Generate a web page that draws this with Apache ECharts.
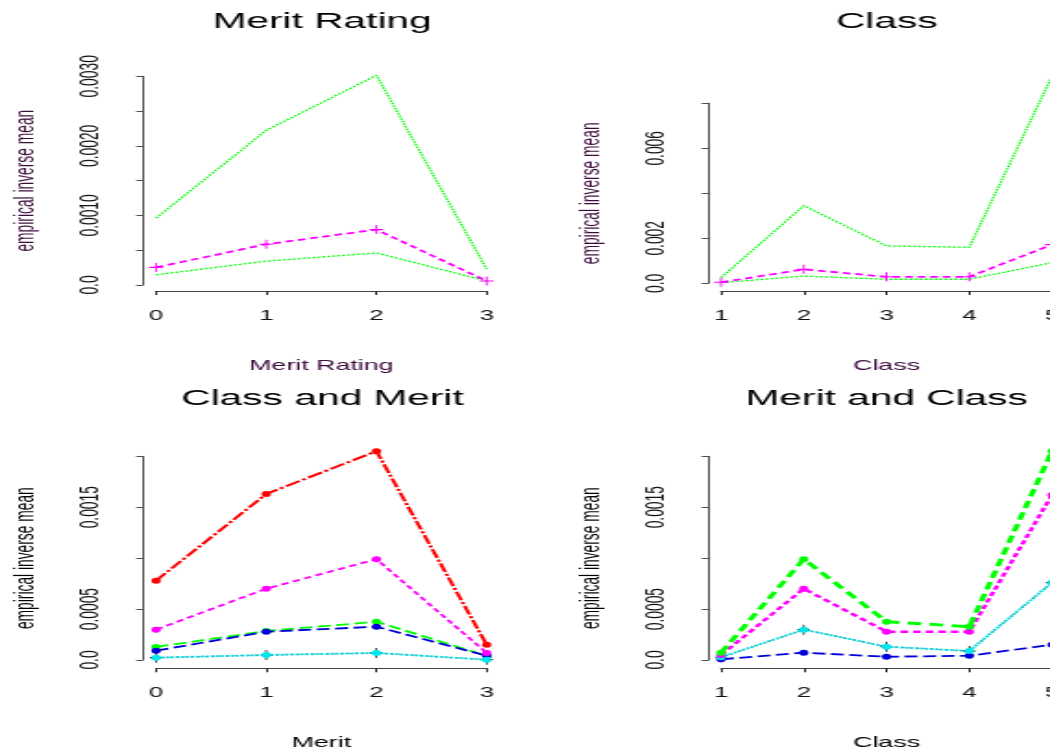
<!DOCTYPE html>
<html>
<head>
<meta charset="utf-8">
<script src="https://cdn.jsdelivr.net/npm/echarts@6/dist/echarts.min.js"></script>
<style>
  html, body { margin: 0; padding: 0; background: #fff; overflow: hidden; }
  #wrap { width: 1050px; height: 750px; overflow: hidden; position: relative; background: #fff; }
  #chart { position: absolute; left: 0; top: 0; width: 568px; height: 750px; transform-origin: 0 0; }
</style>
</head>
<body>
<div id="wrap"><div id="chart"></div></div>
<script>
// ---- data ----
const meritLevels = [0, 1, 2, 3];
const classLevels = [1, 2, 3, 4, 5];

// Merit Rating: upper / lower bands and empirical inverse mean
const meritUpper = [0.000961, 0.002224, 0.003014, 0.000229];
const meritMean  = [0.000253, 0.000586, 0.000796, 0.000057];
const meritLower = [0.000147, 0.000343, 0.000461, 0.000057];

// Class: upper / lower bands and empirical inverse mean
const classUpper = [0.00025, 0.00345, 0.00166, 0.00160, 0.00920];
const classMean  = [0.000044, 0.00062, 0.00029, 0.00029, 0.00172];
const classLower = [0.00003, 0.00032, 0.00018, 0.00018, 0.00092];

// Class and Merit: one line per class across merit levels
const cmRed     = [0.000779, 0.00163, 0.00205, 0.00015];
const cmMagenta = [0.000298, 0.00070, 0.00099, 0.000069];
const cmGreen   = [0.000128, 0.000285, 0.000376, 0.00004];
const cmBlue    = [0.000091, 0.000278, 0.000327, 0.000042];
const cmCyan    = [0.000023, 0.000049, 0.000069, 0.000003];

// Merit and Class: one line per merit level across classes
const mcGreen   = [0.000072, 0.00099, 0.000376, 0.000327, 0.00205];
const mcMagenta = [0.000049, 0.00070, 0.000278, 0.000278, 0.00162];
const mcCyan    = [0.000027, 0.000298, 0.000131, 0.000088, 0.00076];
const mcBlue    = [0.000007, 0.000072, 0.000032, 0.000042, 0.00015];

// tick labels (blank where the label is skipped)
const yLabelsMerit  = ['0.0', '', '0.0010', '', '0.0020', '', '0.0030'];
const yLabelsClass  = ['0.0', '0.002', '', '0.006', ''];
const yLabelsBottom = ['0.0', '0.0005', '', '0.0015', ''];

const titles = ['Merit Rating', 'Class', 'Class and Merit', 'Merit and Class'];
const xNames = ['Merit Rating', 'Class', 'Merit', 'Class'];
const yName = 'empirical inverse mean';

// ---- layout ----
// the chart is drawn narrow and widened horizontally, like a stretched device
const chartEl = document.getElementById('chart');
const K = 1050 / 568;
chartEl.style.transform = 'scaleX(' + K + ')';
const X = v => v / K;

const FONT = '"Liberation Sans", Arial, Helvetica, sans-serif';
const PURPLE = '#3b0b3b';

const geo = [
  { left: 156, width: 330.7, top: 76.3,  height: 208.7, xOff: 6,   yOff: 13.2, tx: 322,   ty: 21.5 },
  { left: 721, width: 331,   top: 103.3, height: 180,   xOff: 7.7, yOff: 12.7, tx: 886.7, ty: 21.5 },
  { left: 156, width: 330.7, top: 456.3, height: 203.7, xOff: 8.3, yOff: 13.2, tx: 322.5, ty: 399 },
  { left: 721, width: 331,   top: 456.3, height: 203.7, xOff: 8.3, yOff: 12.7, tx: 886.7, ty: 399 }
];

const axisCfg = [
  { xMin: 0, xMax: 3, yMax: 0.003, yStep: 0.0005, yLabels: yLabelsMerit,  nameColor: PURPLE },
  { xMin: 1, xMax: 5, yMax: 0.008, yStep: 0.002,  yLabels: yLabelsClass,  nameColor: PURPLE },
  { xMin: 0, xMax: 3, yMax: 0.002, yStep: 0.0005, yLabels: yLabelsBottom, nameColor: '#000' },
  { xMin: 1, xMax: 5, yMax: 0.002, yStep: 0.0005, yLabels: yLabelsBottom, nameColor: '#000' }
];

const grids = [], xAxes = [], yAxes = [], titleOpts = [];
geo.forEach((g, i) => {
  const a = axisCfg[i];
  grids.push({ left: X(g.left), top: g.top, width: X(g.width), height: g.height,
               containLabel: false, outerBoundsMode: 'none' });
  xAxes.push({
    gridIndex: i, type: 'value', min: a.xMin, max: a.xMax, interval: 1, offset: g.xOff,
    name: xNames[i], nameLocation: 'middle', nameGap: 67.5, nameMoveOverlap: false,
    nameTextStyle: { fontFamily: FONT, fontSize: 14.5, color: a.nameColor },
    axisLine: { show: true, onZero: false, lineStyle: { color: '#444', width: 1 } },
    axisTick: { show: true, length: 4, lineStyle: { color: '#222', width: 1 } },
    axisLabel: { margin: 18, fontFamily: FONT, fontSize: 14, color: '#111' },
    splitLine: { show: false }
  });
  yAxes.push({
    gridIndex: i, type: 'value', min: 0, max: a.yMax, interval: a.yStep, offset: X(g.yOff),
    name: yName, nameLocation: 'middle', nameRotate: 90, nameGap: 56, nameMoveOverlap: false,
    nameTextStyle: { fontFamily: FONT, fontSize: 13.8, color: a.nameColor },
    axisLine: { show: true, onZero: false, lineStyle: { color: '#222', width: 0.8 } },
    axisTick: { show: true, length: 3.6, lineStyle: { color: '#222', width: 0.8 } },
    axisLabel: {
      rotate: 90, margin: 21, fontFamily: FONT, fontSize: 13.8, color: '#111',
      showMinLabel: true, showMaxLabel: true,
      formatter: v => a.yLabels[Math.round(v / a.yStep)] || ''
    },
    splitLine: { show: false }
  });
  titleOpts.push({
    text: titles[i], left: X(g.tx), top: g.ty - 11, textAlign: 'center', padding: 0,
    textStyle: { fontFamily: FONT, fontSize: 22, fontWeight: 'normal', color: '#000' }
  });
});

// ---- series ----
const CROSS = 'path://M0,4.4H10V5.6H0ZM4.4,0H5.6V10H4.4Z';
const GREEN = '#00ff00', MAGENTA = '#ff00ff', RED = '#ff0000', BLUE = '#0000d8', CYAN = '#00e6ee';

function pts(xs, ys) { return xs.map((x, i) => [x, ys[i]]); }
function line(gi, name, xs, ys, color, width, dash, symbol, symbolSize, z) {
  return {
    type: 'line', name: name, xAxisIndex: gi, yAxisIndex: gi,
    data: pts(xs, ys), clip: false, silent: true, animation: false,
    symbol: symbol || 'none', symbolSize: symbolSize || 0, showSymbol: !!symbol,
    itemStyle: { color: color, opacity: 1 },
    lineStyle: { color: color, width: width, type: dash },
    z: z || 2
  };
}
const DOT = [1.6, 1.1];
const DASH = [4.2, 2.6];
const LONG = [7, 3];
const LONG_WIDE = [7.5, 4.5];
const DOTDASH = [9, 1.8, 2.2, 1.8];
const CIRC = [5, 6];

const series = [
  // Merit Rating
  line(0, 'upper', meritLevels, meritUpper, GREEN, 1.3, DOT),
  line(0, 'lower', meritLevels, meritLower, GREEN, 1.3, DOT),
  line(0, 'mean',  meritLevels, meritMean,  MAGENTA, 1.8, DASH, CROSS, [7.5, 9], 3),
  // Class
  line(1, 'upper', classLevels, classUpper, GREEN, 1.3, DOT),
  line(1, 'lower', classLevels, classLower, GREEN, 1.3, DOT),
  line(1, 'mean',  classLevels, classMean,  MAGENTA, 1.8, DASH, CROSS, [7.5, 9], 3),
  // Class and Merit
  line(2, 'black',   meritLevels, cmCyan,    '#111', 1, DOT, CROSS, [6.5, 10], 2),
  line(2, 'red',     meritLevels, cmRed,     RED, 2, DOTDASH, 'circle', CIRC, 3),
  line(2, 'green',   meritLevels, cmGreen,   GREEN, 1.8, LONG, 'circle', CIRC, 3),
  line(2, 'blue',    meritLevels, cmBlue,    BLUE, 1.8, LONG, 'circle', CIRC, 4),
  line(2, 'cyan',    meritLevels, cmCyan,    CYAN, 2, DOT, 'circle', CIRC, 5),
  line(2, 'magenta', meritLevels, cmMagenta, MAGENTA, 1.8, DASH, 'circle', CIRC, 4),
  // Merit and Class
  line(3, 'black',   classLevels, mcCyan,    '#111', 1, DOT, CROSS, [6.5, 10], 2),
  line(3, 'blue',    classLevels, mcBlue,    BLUE, 1.8, LONG, 'circle', CIRC, 3),
  line(3, 'cyan',    classLevels, mcCyan,    CYAN, 2, DOT, 'circle', CIRC, 4),
  line(3, 'magenta', classLevels, mcMagenta, MAGENTA, 2.4, DASH, 'circle', CIRC, 4),
  line(3, 'green',   classLevels, mcGreen,   GREEN, 3, LONG_WIDE, 'circle', CIRC, 5)
];

const chart = echarts.init(chartEl, null, { renderer: 'canvas' });
chart.setOption({
  backgroundColor: '#fff',
  animation: false,
  title: titleOpts,
  grid: grids,
  xAxis: xAxes,
  yAxis: yAxes,
  series: series
});
</script>
</body>
</html>
